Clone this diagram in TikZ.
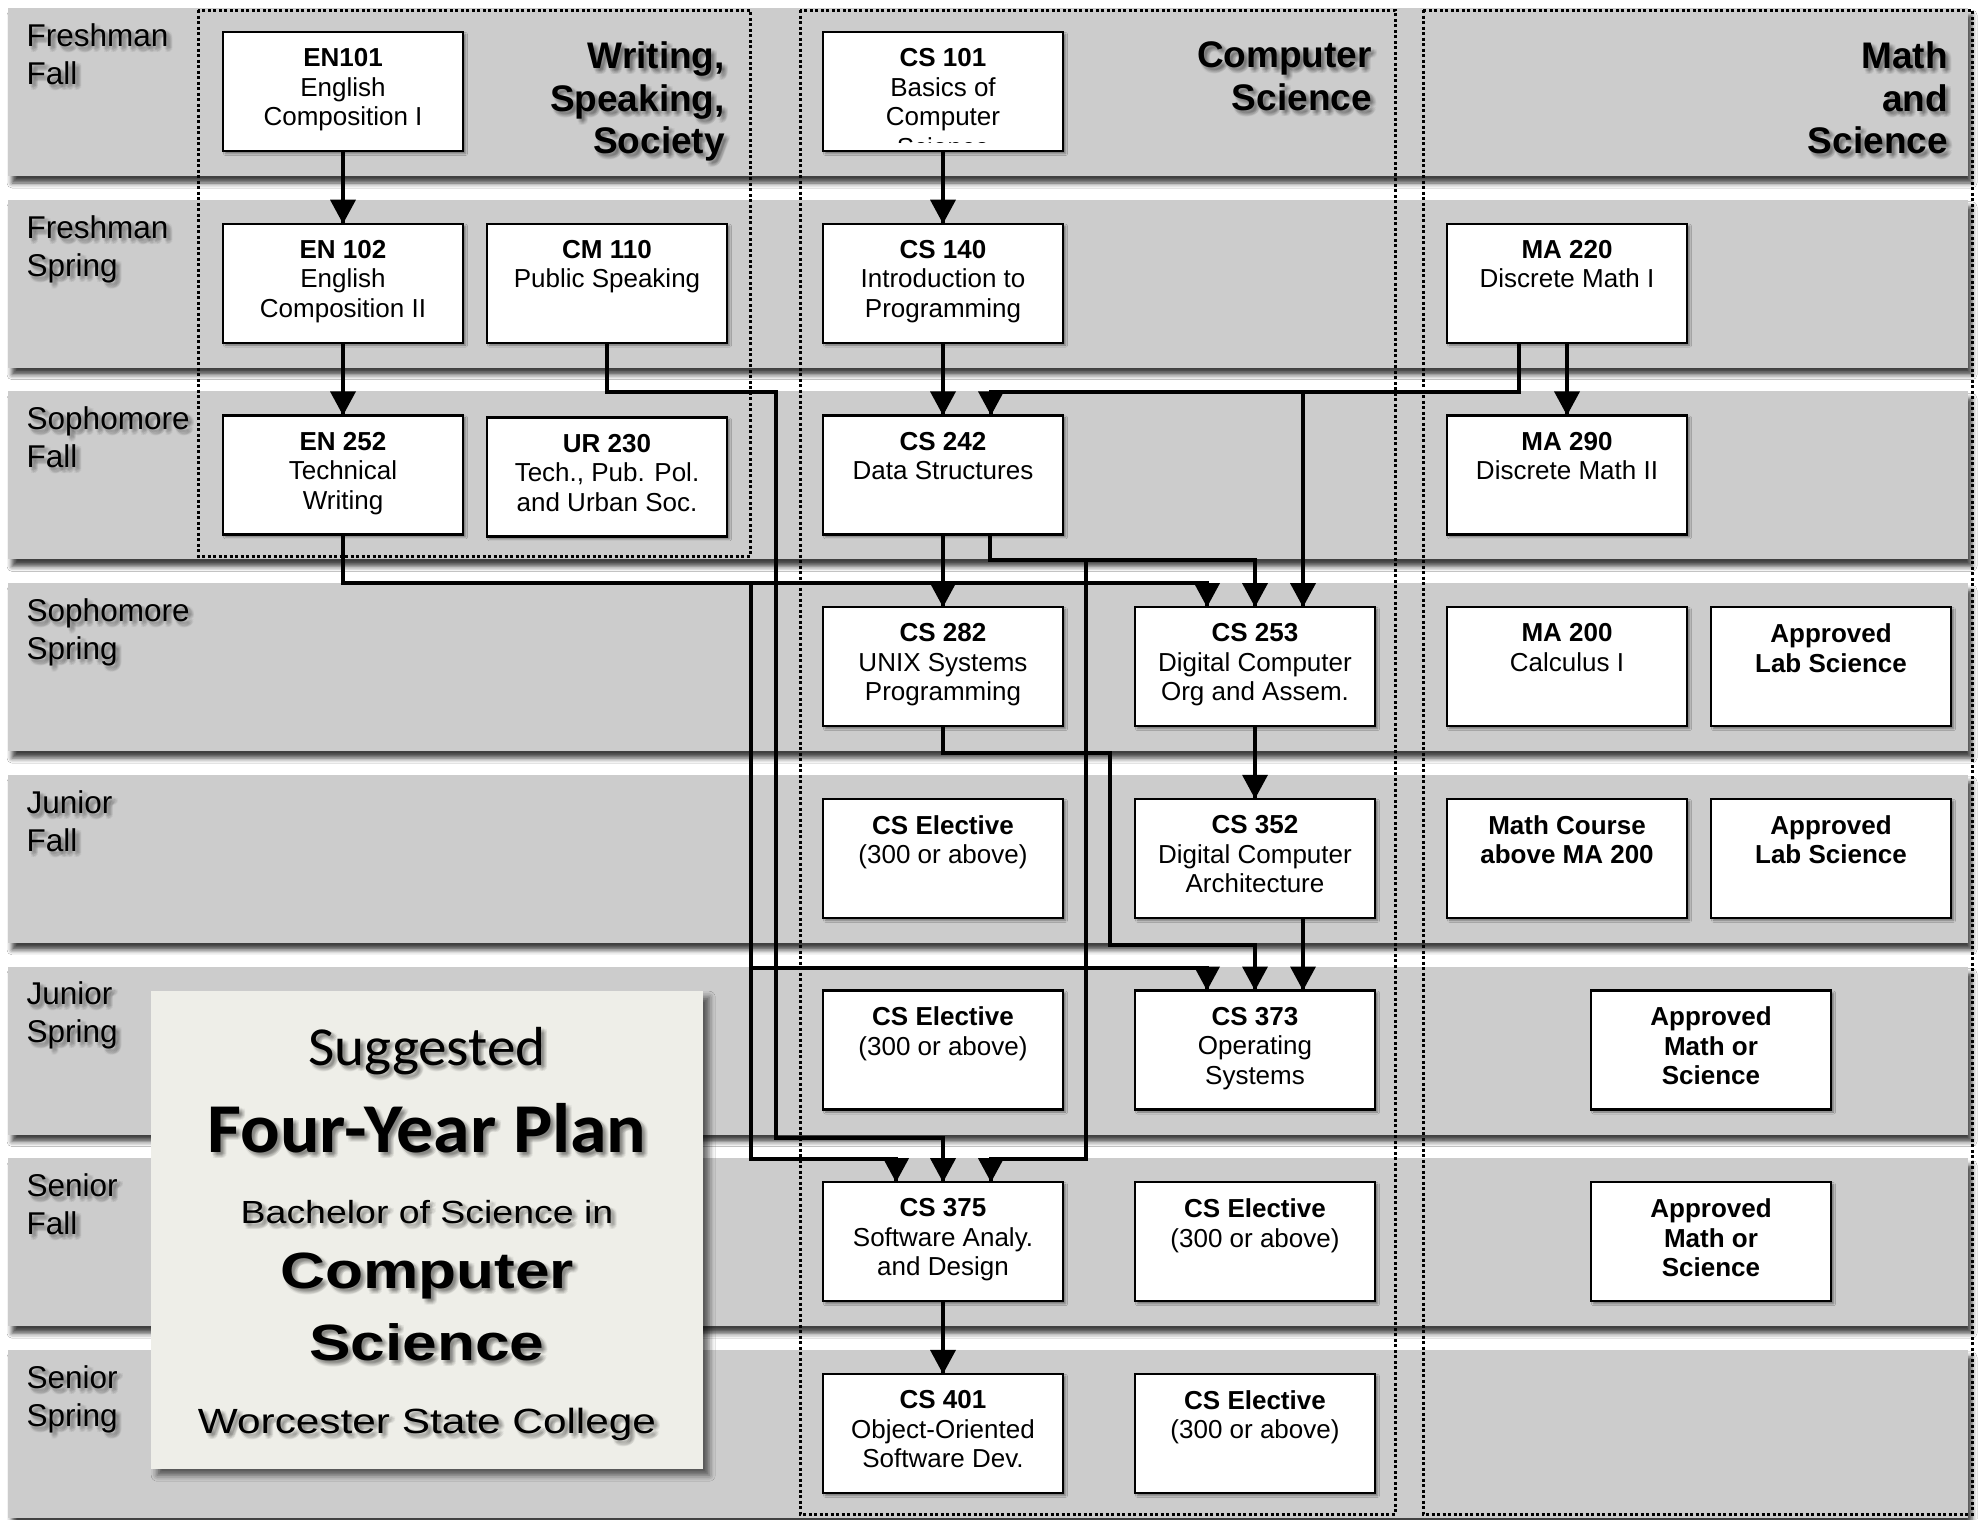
\documentclass[tikz,border=0pt]{standalone}
\usepackage{fontspec}
\usepackage{graphicx}
\setmainfont{Liberation Sans}
\newfontfamily\calibri{Carlito}
\usetikzlibrary{calc,shadows.blur}

\definecolor{bandgray}{RGB}{204,204,204}
\definecolor{titlefill}{RGB}{238,238,232}

\newcommand{\shtext}[4]{%
  \foreach \sx/\sy [count=\k] in {1/3,3/1,3/5,5/3,2/4,4/2,4/6,6/4,3/3,5/5,2/6,6/2}{%
    \node[#2, opacity=0.045] (#1s\k) at ($(#3)+(\sx pt,-\sy pt)$) {#4};
  }%
  \node[#2] (#1) at (#3) {#4};%
}
\newcommand{\tipat}[1]{\fill[black] (#1) -- ++(-13,-24) -- ++(26,0) -- cycle;}

\tikzset{
  band/.style={fill=bandgray, draw=none, blur shadow={shadow xshift=4pt, shadow yshift=-7pt, shadow blur radius=5pt, shadow opacity=75}},
  course/.style={draw=black, line width=2.2pt, fill=white, minimum width=240pt, minimum height=119pt, inner sep=0pt, outer sep=0pt, anchor=north west, blur shadow={shadow xshift=2.5pt, shadow yshift=-2.5pt, shadow blur radius=2pt, shadow opacity=45}},
  ctext/.style={anchor=north, align=center, inner sep=0pt, font=\fontsize{26}{29.5}\selectfont},
  btext/.style={ctext, font=\bfseries\fontsize{26}{29.5}\selectfont},
  rowlab/.style={anchor=north west, align=left, inner sep=0pt, font=\fontsize{31.5}{38}\selectfont},
  head/.style={anchor=north east, align=right, inner sep=0pt, font=\bfseries\fontsize{37}{42.5}\selectfont},
  ttext/.style={anchor=base, inner sep=0pt},
  dotbox/.style={line width=3pt, dash pattern=on 3pt off 2.5pt},
  conn/.style={line width=4pt}
}

\begin{document}
\begin{tikzpicture}[x=1pt,y=-1pt]
\useasboundingbox (0,0) rectangle (1986,1519);
\fill[white] (0,0) rectangle (1986,1519);

% bands
\foreach \i in {0,...,7}{
  \path[band] (8,{8+191.7*\i}) rectangle (1968,{176+191.7*\i});
}

% dotted group boxes
\draw[dotbox] (198,10) rectangle (750,556);
\draw[dotbox] (800,10) rectangle (1395,1514);
\draw[dotbox] (1423,10) rectangle (1972,1514);

% headings
\shtext{hW}{head}{725,41.5}{Writing,\\Speaking,\\Society}
\shtext{hC}{head}{1372,41.5}{Computer\\Science}
\shtext{hM}{head}{1948,41.5}{Math\\and\\Science}

% row labels
\shtext{rl0}{rowlab}{26.5,23.4}{Freshman\\Fall}
\shtext{rl1}{rowlab}{26.5,215.1}{Freshman\\Spring}
\shtext{rl2}{rowlab}{26.5,406.8}{Sophomore\\Fall}
\shtext{rl3}{rowlab}{26.5,598.5}{Sophomore\\Spring}
\shtext{rl4}{rowlab}{26.5,790.2}{Junior\\Fall}
\shtext{rl5}{rowlab}{26.5,981.9}{Junior\\Spring}
\shtext{rl6}{rowlab}{26.5,1173.6}{Senior\\Fall}
\shtext{rl7}{rowlab}{26.5,1365.3}{Senior\\Spring}

% title box
\node[draw=none, fill=titlefill, minimum width=552pt, minimum height=478pt, anchor=north west, inner sep=0pt,
  blur shadow={shadow xshift=6pt, shadow yshift=-6pt, shadow blur radius=6pt, shadow opacity=60}] (title) at (151,991) {};
\shtext{t1}{ttext, font=\calibri\fontsize{55}{60}\selectfont}{427,1065}{\scalebox{1.04}[1]{Suggested}}
\shtext{t2}{ttext, font=\calibri\bfseries\fontsize{70}{75}\selectfont}{427,1152}{\scalebox{1.055}[1]{Four-Year Plan}}
\shtext{t3}{ttext, font=\fontsize{32}{36}\selectfont}{427,1223}{\scalebox{1.17}[1]{Bachelor of Science in}}
\shtext{t4}{ttext, font=\bfseries\fontsize{51}{56}\selectfont}{427,1288}{\scalebox{1.22}[1]{Computer}}
\shtext{t5}{ttext, font=\bfseries\fontsize{51}{56}\selectfont}{427,1360}{\scalebox{1.22}[1]{Science}}
\shtext{t6}{ttext, font=\fontsize{35}{40}\selectfont}{427,1433}{\scalebox{1.21}[1]{Worcester State College}}

% course boxes
\node[course] (en101) at (223,32) {};
\node[course] (cs101) at (823,32) {};
\node[course] (en102) at (223,223.7) {};
\node[course] (cm110) at (487,223.7) {};
\node[course] (cs140) at (823,223.7) {};
\node[course] (ma220) at (1447,223.7) {};
\node[course] (en252) at (223,415.4) {};
\node[course] (ur230) at (487,417.4) {};
\node[course] (cs242) at (823,415.4) {};
\node[course] (ma290) at (1447,415.4) {};
\node[course] (cs282) at (823,607.1) {};
\node[course] (cs253) at (1135,607.1) {};
\node[course] (ma200) at (1447,607.1) {};
\node[course] (lab1) at (1711,607.1) {};
\node[course] (cse1) at (823,798.8) {};
\node[course] (cs352) at (1135,798.8) {};
\node[course] (mabove) at (1447,798.8) {};
\node[course] (lab2) at (1711,798.8) {};
\node[course] (cse2) at (823,990.5) {};
\node[course] (cs373) at (1135,990.5) {};
\node[course] (apm1) at (1591,990.5) {};
\node[course] (cs375) at (823,1182.2) {};
\node[course] (cse3) at (1135,1182.2) {};
\node[course] (apm2) at (1591,1182.2) {};
\node[course] (cs401) at (823,1373.9) {};
\node[course] (cse4) at (1135,1373.9) {};

% course texts
\node[ctext] (en101t) at ($(en101.north)+(0,16.4)$) {\textbf{EN101}\\English\\Composition I};
\node[ctext] (cs101t) at ($(cs101.north)+(0,16.4)$) {\textbf{CS 101}\\Basics of\\Computer};
\begin{scope}
  \clip (823,32) rectangle (1063,142);
  \node[anchor=base, inner sep=0pt, font=\fontsize{26}{29.5}\selectfont] (cs101x) at (943,156.5) {Science};
\end{scope}
\node[ctext] (en102t) at ($(en102.north)+(0,16.4)$) {\textbf{EN 102}\\English\\Composition II};
\node[ctext] (cm110t) at ($(cm110.north)+(0,16.4)$) {\textbf{CM 110}\\Public Speaking};
\node[ctext] (cs140t) at ($(cs140.north)+(0,16.4)$) {\textbf{CS 140}\\Introduction to\\Programming};
\node[ctext] (ma220t) at ($(ma220.north)+(0,16.4)$) {\textbf{MA 220}\\Discrete Math I};
\node[ctext] (en252t) at ($(en252.north)+(0,16.4)$) {\textbf{EN 252}\\Technical\\Writing};
\node[ctext] (ur230t) at ($(ur230.north)+(0,16.4)$) {\textbf{UR 230}\\Tech., Pub. Pol.\\and Urban Soc.};
\node[ctext] (cs242t) at ($(cs242.north)+(0,16.4)$) {\textbf{CS 242}\\Data Structures};
\node[ctext] (ma290t) at ($(ma290.north)+(0,16.4)$) {\textbf{MA 290}\\Discrete Math II};
\node[ctext] (cs282t) at ($(cs282.north)+(0,16.4)$) {\textbf{CS 282}\\UNIX Systems\\Programming};
\node[ctext] (cs253t) at ($(cs253.north)+(0,16.4)$) {\textbf{CS 253}\\Digital Computer\\Org and Assem.};
\node[ctext] (ma200t) at ($(ma200.north)+(0,16.4)$) {\textbf{MA 200}\\Calculus I};
\node[btext] (lab1t) at ($(lab1.north)+(0,16.4)$) {Approved\\Lab Science};
\node[ctext] (cse1t) at ($(cse1.north)+(0,16.4)$) {\textbf{CS Elective}\\(300 or above)};
\node[ctext] (cs352t) at ($(cs352.north)+(0,16.4)$) {\textbf{CS 352}\\Digital Computer\\Architecture};
\node[btext] (mabovet) at ($(mabove.north)+(0,16.4)$) {Math Course\\above MA 200};
\node[btext] (lab2t) at ($(lab2.north)+(0,16.4)$) {Approved\\Lab Science};
\node[ctext] (cse2t) at ($(cse2.north)+(0,16.4)$) {\textbf{CS Elective}\\(300 or above)};
\node[ctext] (cs373t) at ($(cs373.north)+(0,16.4)$) {\textbf{CS 373}\\Operating\\Systems};
\node[btext] (apm1t) at ($(apm1.north)+(0,16.4)$) {Approved\\Math or\\Science};
\node[ctext] (cs375t) at ($(cs375.north)+(0,16.4)$) {\textbf{CS 375}\\Software Analy.\\and Design};
\node[ctext] (cse3t) at ($(cse3.north)+(0,16.4)$) {\textbf{CS Elective}\\(300 or above)};
\node[btext] (apm2t) at ($(apm2.north)+(0,16.4)$) {Approved\\Math or\\Science};
\node[ctext] (cs401t) at ($(cs401.north)+(0,16.4)$) {\textbf{CS 401}\\Object-Oriented\\Software Dev.};
\node[ctext] (cse4t) at ($(cse4.north)+(0,16.4)$) {\textbf{CS Elective}\\(300 or above)};

% connector points
\coordinate (cs242r) at ($(cs242.north)+(48,0)$);
\coordinate (cs253l) at ($(cs253.north)+(-48,0)$);
\coordinate (cs253r) at ($(cs253.north)+(48,0)$);
\coordinate (cs373l) at ($(cs373.north)+(-48,0)$);
\coordinate (cs373r) at ($(cs373.north)+(48,0)$);
\coordinate (cs375l) at ($(cs375.north)+(-47,0)$);
\coordinate (cs375r) at ($(cs375.north)+(48,0)$);
\coordinate (ma220a) at ($(ma220.south)+(-48.5,0)$);
\coordinate (cs242a) at ($(cs242.south)+(47,0)$);
\coordinate (cs352a) at ($(cs352.south)+(48,0)$);
\coordinate (jma) at (1518.5,392);
\coordinate (jcm) at (776,392);
\coordinate (jcm2) at (776,1138);
\coordinate (jen) at (751,583);
\coordinate (jen2) at (751,968);
\coordinate (jen3) at (751,1159);
\coordinate (jds) at (1086,560);
\coordinate (jds2) at (1086,1159);
\coordinate (jux) at (1110,753);
\coordinate (jux2) at (1110,945);

% connectors (lines)
\draw[conn] (en101.south) -- (en102.north);
\draw[conn] (en102.south) -- (en252.north);
\draw[conn] (cs101.south) -- (cs140.north);
\draw[conn] (cs140.south) -- (cs242.north);
\draw[conn] (cs242.south) -- (cs282.north);
\draw[conn] (cs253.south) -- (cs352.north);
\draw[conn] (cs375.south) -- (cs401.north);
\draw[conn] (ma220.south) -- (ma290.north);
\draw[conn] (ma220a) -- (jma) -| (cs242r);
\draw[conn] (cs253r |- jma) -- (cs253r);
\draw[conn] (cm110.south) |- (jcm) -- (jcm2) -| (cs375.north);
\draw[conn] (en252.south) |- (jen) -| (cs253l);
\draw[conn] (jen) -- (jen3) -| (cs375l);
\draw[conn] (jen2) -| (cs373l);
\draw[conn] (cs242a) |- (jds) -| (cs253.north);
\draw[conn] (jds) -- (jds2) -| (cs375r);
\draw[conn] (cs282.south) |- (jux) -- (jux2) -| (cs373.north);
\draw[conn] (cs352a) -- (cs373r);

% arrowheads
\tipat{en102.north}
\tipat{en252.north}
\tipat{cs140.north}
\tipat{cs242.north}
\tipat{cs242r}
\tipat{cs282.north}
\tipat{cs352.north}
\tipat{cs401.north}
\tipat{ma290.north}
\tipat{cs253l}
\tipat{cs253.north}
\tipat{cs253r}
\tipat{cs373l}
\tipat{cs373.north}
\tipat{cs373r}
\tipat{cs375l}
\tipat{cs375.north}
\tipat{cs375r}
\end{tikzpicture}
\end{document}
